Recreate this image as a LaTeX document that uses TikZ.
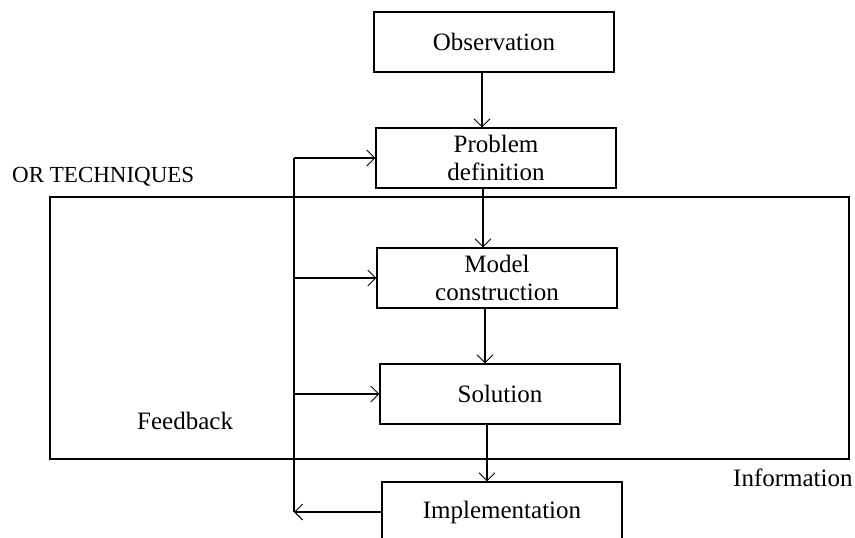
\documentclass[tikz,border=0pt]{standalone}
\usepackage{fontspec}
\setmainfont{Liberation Serif}
\usetikzlibrary{calc,arrows.meta}

\begin{document}
\begin{tikzpicture}[x=1pt,y=-1pt,
    stage/.style={draw, line width=1.1pt, minimum width=240pt, minimum height=60pt,
      inner sep=0pt, align=center, font=\fontsize{25}{28}\selectfont},
    wire/.style={line width=1.1pt},
    flow/.style={wire, -{Straight Barb[length=8pt,width=16pt,line width=0.9pt]}},
    lbl/.style={anchor=west, inner sep=0pt, font=\fontsize{25}{28}\selectfont}]
  \clip (0,0) rectangle (855,538);

  \node[draw, wire, minimum width=799pt, minimum height=262pt] (ortech) at (449.5,328) {};

  \node[stage] (obs)   at (494,42)  {Observation};
  \node[stage] (prob)  at (496,158) {Problem\\definition};
  \node[stage] (model) at (497,278) {Model\\construction};
  \node[stage] (sol)   at (500,394) {Solution};
  \node[stage] (impl)  at (502,512) {Implementation};

  \node[lbl, font=\fontsize{23}{27}\selectfont] (ortext) at (12,177) {OR TECHNIQUES};
  \node[lbl] (fbtext) at (137,421) {Feedback};
  \node[lbl] (intext) at (733,478) {Information};

  % main flow down the stages
  \coordinate (o1) at ($(obs.south)+(-12,0)$);
  \coordinate (p1) at ($(prob.south)+(-13,0)$);
  \coordinate (m1) at ($(model.south)+(-12,0)$);
  \coordinate (s1) at ($(sol.south)+(-13,0)$);
  \path (o1) edge[flow] (o1 |- prob.north)
        (p1) edge[flow] (p1 |- model.north)
        (m1) edge[flow] (m1 |- sol.north)
        (s1) edge[flow] (s1 |- impl.north);

  % feedback loop
  \coordinate (fbx) at (294,0);
  \draw[wire] (fbx |- prob.west) -- (fbx |- impl.west);
  \draw[flow] (impl.west) -- (fbx |- impl.west);
  \foreach \n in {prob,model,sol} {\draw[flow] (fbx |- \n.west) -- (\n.west);};
\end{tikzpicture}
\end{document}
